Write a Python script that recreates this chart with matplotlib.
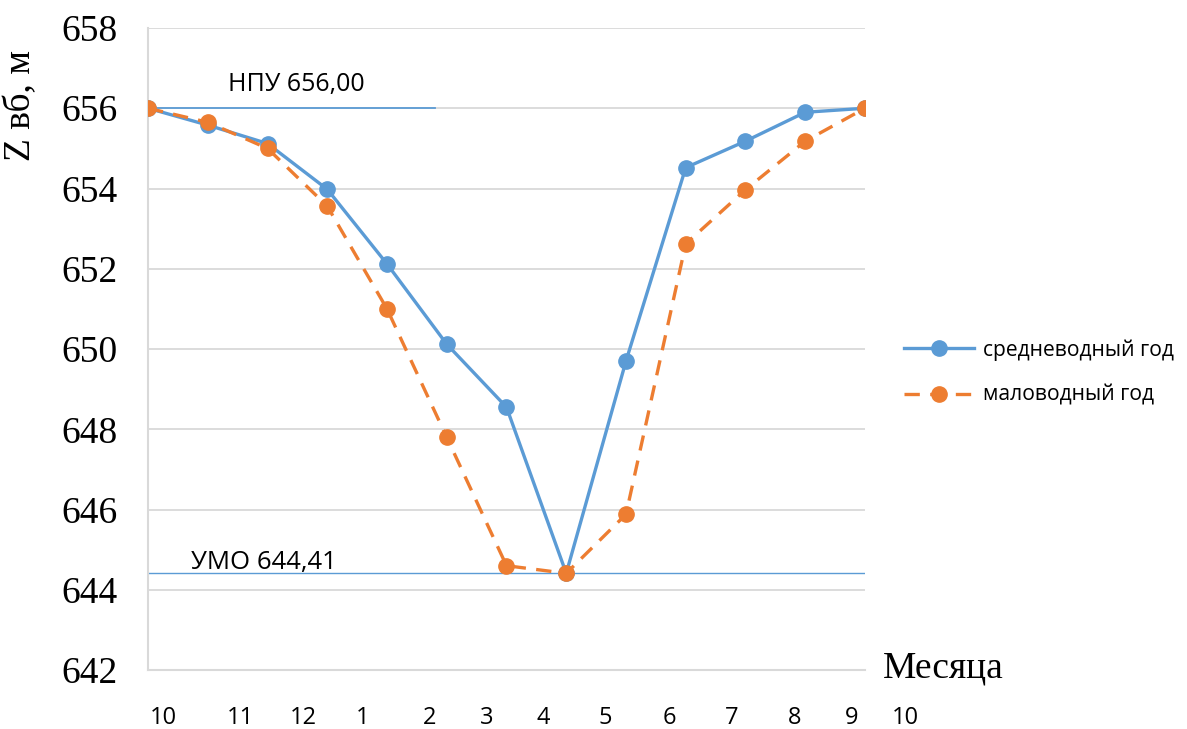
import numpy as np
import matplotlib
matplotlib.use("Agg")
import matplotlib.pyplot as plt
from matplotlib.transforms import blended_transform_factory

# reservoir level by month, m
months = ["10", "11", "12", "1", "2", "3", "4", "5", "6", "7", "8", "9", "10"]
avg_year = [656.00, 655.58, 655.12, 653.98, 652.12, 650.12, 648.55,
            644.41, 649.70, 654.52, 655.18, 655.90, 656.00]
dry_year = [656.00, 655.65, 655.00, 653.56, 651.00, 647.80, 644.60,
            644.41, 645.88, 652.62, 653.97, 655.18, 656.00]
npu_level = 656.00
umo_level = 644.41
yticks = [642, 644, 646, 648, 650, 652, 654, 656, 658]

# month captions sit under the plot, not exactly under the points
month_x = [0.25, 1.54, 2.6, 3.6, 4.71, 5.67, 6.62, 7.65, 8.73, 9.77, 10.82, 11.78, 12.67]

BLUE = "#5B9BD5"
ORANGE = "#ED7D31"
GRID = "#D9D9D9"
SANS = ["Open Sans", "DejaVu Sans"]
SERIF = ["Liberation Serif", "DejaVu Serif"]

fig = plt.figure(figsize=(11.87, 7.29), dpi=100)
ax = fig.add_axes([0.1247, 0.0809, 0.6040, 0.8807])

x = np.arange(len(avg_year))
ax.plot(x, avg_year, color=BLUE, lw=2.4, marker="o", ms=11,
        label="средневодный год", zorder=3)
ax.plot(x, dry_year, color=ORANGE, lw=2.4, marker="o", ms=11,
        dashes=(4.6, 3.1), label="маловодный год", zorder=4)

# НПУ and УМО reference lines
ax.plot([0, 4.81], [npu_level, npu_level], color=BLUE, lw=1.3, zorder=2)
ax.plot([0, 12], [umo_level, umo_level], color=BLUE, lw=1.0, zorder=2)
ax.text(2.48, 656.6, "НПУ 656,00", ha="center", va="center",
        fontsize=18, family=SANS)
ax.text(1.94, 644.69, "УМО 644,41", ha="center", va="center",
        fontsize=18.5, family=SANS)

ax.set_xlim(0, 12)
ax.set_ylim(642, 658)
ax.set_yticks(yticks)
ax.set_yticklabels([str(t) for t in yticks], fontsize=27, family=SERIF)
ax.set_xticks([])
ax.tick_params(axis="y", length=0, pad=22)
ax.grid(axis="y", color=GRID, lw=1.3)
ax.set_axisbelow(True)
for side in ["top", "right"]:
    ax.spines[side].set_visible(False)
for side in ["left", "bottom"]:
    ax.spines[side].set_color(GRID)
    ax.spines[side].set_linewidth(1.5)

ax.set_ylabel("Z вб, м", fontsize=27, family=SERIF)
ax.yaxis.set_label_coords(-0.153, 0.88)

trans = blended_transform_factory(ax.transData, ax.transAxes)
for mx, m in zip(month_x, months):
    ax.text(mx, -0.074, m, transform=trans, ha="center", va="center",
            fontsize=17, family=SANS, clip_on=False)

fig.text(0.7438, 0.084, "Месяца", ha="left", va="center", fontsize=27,
         family=SERIF)

fig.legend(loc="center left", bbox_to_anchor=(0.762, 0.489), frameon=False,
           prop={"family": SANS, "size": 15.2}, handlelength=3.3,
           handletextpad=0.4, labelspacing=1.15, borderpad=0,
           borderaxespad=0)

fig.savefig("out.png", dpi=100)
